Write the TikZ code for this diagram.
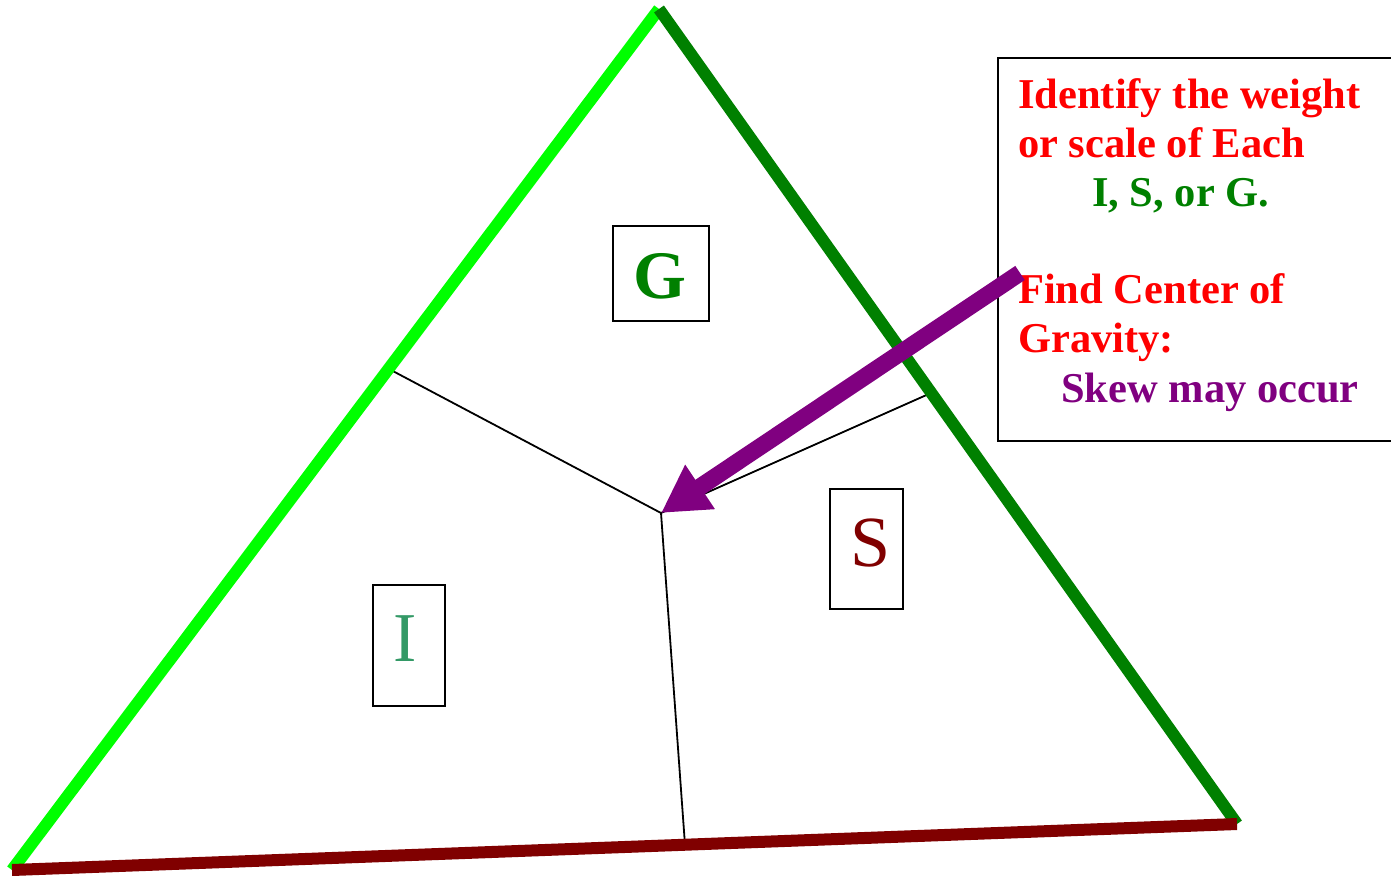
\documentclass[tikz,border=0pt]{standalone}
\usepackage{fontspec}
\setmainfont{Liberation Serif}
\usetikzlibrary{arrows.meta}
\definecolor{brightgreen}{HTML}{00FF00}
\definecolor{darkgreen}{HTML}{008000}
\definecolor{darkred}{HTML}{800000}
\definecolor{arrowpurple}{HTML}{800080}
\definecolor{textred}{HTML}{FF0000}
\definecolor{seagreen}{HTML}{339966}
\tikzset{
  thinline/.style={draw=black, line width=1.8pt},
  edgeline/.style={line width=12pt, line cap=butt},
  lbox/.style={draw=black, line width=2pt, inner sep=0pt, fill=none},
  infotext/.style={anchor=base west, inner sep=0pt, font=\fontsize{42.5}{49}\selectfont\bfseries},
}
\begin{document}
\begin{tikzpicture}[x=1pt,y=-1pt]
\useasboundingbox (0,0) rectangle (1391,875);
% triangle corners
\coordinate (A) at (659,9);
\coordinate (L) at (12,870);
\coordinate (R) at (1237,824);
% inner points
\coordinate (P) at (661,513);
\coordinate (E1) at (389,369);
\coordinate (E2) at (931,393);
\coordinate (E3) at (685,845);
% inner lines
\draw[thinline] (E1) -- (P);
\draw[thinline] (E2) -- (P);
\draw[thinline] (P) -- (E3);
% triangle edges
\draw[edgeline, brightgreen] (A) -- (L);
\draw[edgeline, darkgreen] (A) -- (R);
\draw[edgeline, darkred] (L) -- (R);
% letter boxes
\node[lbox, minimum width=96pt, minimum height=95pt] (gbox) at (661,273.5) {};
\node[anchor=base, inner sep=0pt, text=darkgreen, font=\fontsize{68}{68}\selectfont\bfseries] (gtext) at (660,298) {G};
\node[lbox, minimum width=73pt, minimum height=120pt] (sbox) at (866.5,549) {};
\node[anchor=base, inner sep=0pt, text=darkred, font=\fontsize{72}{72}\selectfont] (stext) at (871,566) {S};
\node[lbox, minimum width=72pt, minimum height=121pt] (ibox) at (409,645.5) {};
\node[anchor=base, inner sep=0pt, text=seagreen, font=\fontsize{70}{70}\selectfont] (itext) at (405,661) {I};
% info box
\node[lbox, minimum width=396pt, minimum height=383pt, anchor=north west] (tbox) at (997,57) {};
\node[infotext, text=textred] (t1) at (1018,108) {Identify the weight};
\node[infotext, text=textred] (t2) at (1018,157) {or scale of Each};
\node[infotext, text=darkgreen] (t3) at (1092,206) {I, S, or G.};
\node[infotext, text=textred] (t4) at (1018,303) {Find Center of};
\node[infotext, text=textred] (t5) at (1018,352) {Gravity:};
\node[infotext, text=arrowpurple] (t6) at (1061,402) {Skew may occur};
% arrow
\coordinate (S0) at (1020,273);
\draw[arrowpurple, line width=17pt, line cap=butt, -{Triangle[length=47pt,width=50pt]}] (S0) -- (P);
\end{tikzpicture}
\end{document}
